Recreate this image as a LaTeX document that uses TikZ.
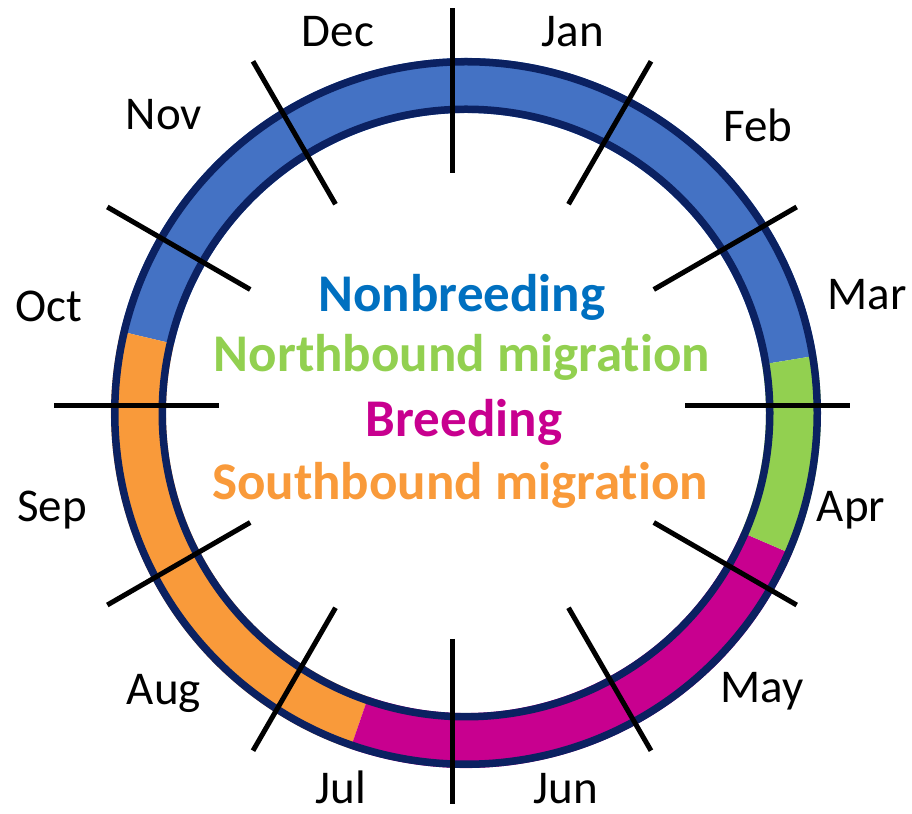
\documentclass[tikz,border=0pt]{standalone}
\usepackage{fontspec}
\setmainfont{Carlito}[Ligatures=NoCommon]
\usetikzlibrary{positioning}
\definecolor{cnavy}{HTML}{0B2161}
\definecolor{cblue}{HTML}{4472C4}
\definecolor{ctblue}{HTML}{0070C0}
\definecolor{cgreen}{HTML}{92D050}
\definecolor{cmagenta}{HTML}{C8008F}
\definecolor{corange}{HTML}{F99A3A}
\tikzset{
  every picture/.style={x=1bp, y=1bp},
  month/.style={font=\fontsize{47bp}{56bp}\selectfont, text=black, anchor=base, inner sep=0pt},
  phase/.style={font=\fontsize{53bp}{62bp}\selectfont\bfseries, text=#1, anchor=base, inner sep=0pt},
  tickline/.style={draw=black, line width=5bp},
  rim/.style={draw=cnavy, line width=7.5bp},
}
\newcommand{\seg}[3]{\fill[#1] (#2:355) arc[start angle=#2, end angle=#3, radius=355] -- (#3:300) arc[start angle=#3, end angle=#2, radius=300] -- cycle;}

\begin{document}
\begin{tikzpicture}
  \useasboundingbox (0,0) rectangle (912,814);
  % the ring, one colour for each phase
  \begin{scope}[shift={(466,401)}]
    \seg{cblue}{9.3}{166.7}
    \seg{corange}{166.7}{251}
    \seg{cmagenta}{251}{336.6}
    \seg{cgreen}{-23.4}{9.3}
    \draw[rim] (0,0) circle[radius=351.25];
    \draw[rim] (0,0) circle[radius=303.75];
  \end{scope}
  % month ticks
  \begin{scope}[shift={(452,408)}]
    \foreach \a in {0,30,...,330} \draw[tickline] (\a:233) -- (\a:398);
  \end{scope}
  % month labels
  \node[month] (dec) at (338,767) {Dec}; \node[month] (jan) at (573,767) {Jan};
  \node[month] (nov) at (164,684) {Nov}; \node[month] (feb) at (758,672) {Feb};
  \node[month] (oct) at (49,492) {Oct};  \node[month] (mar) at (867,504) {Mar};
  \node[month] (sep) at (52,292) {Sep};  \node[month] (apr) at (851,292) {Apr};
  \node[month] (aug) at (164,109) {Aug}; \node[month] (may) at (762,111) {May};
  \node[month] (jul) at (341,10) {Jul};  \node[month] (jun) at (566,10) {Jun};
  % phases
  \node[phase=ctblue] (nonbr) at (462,502) {Nonbreeding};
  \node[phase=cgreen] (north) at (462,442) {Northbound migration};
  \node[phase=cmagenta] (breed) at (464,377) {Breeding};
  \node[phase=corange] (south) at (460,314) {Southbound migration};
\end{tikzpicture}
\end{document}
